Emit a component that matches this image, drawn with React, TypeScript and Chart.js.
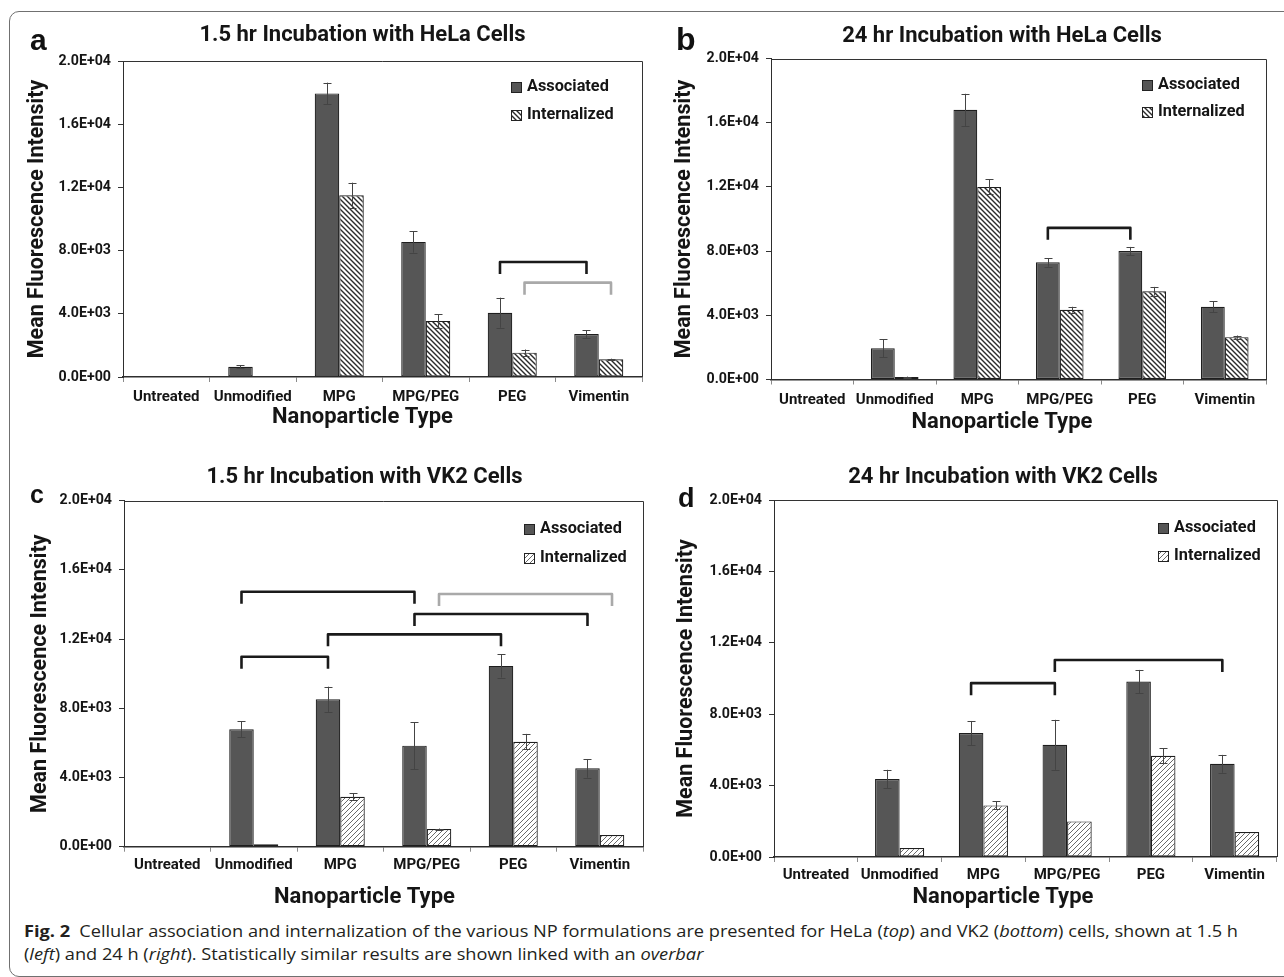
import React, { useEffect, useLayoutEffect, useRef } from "react";
import { Chart, registerables } from "chart.js";

Chart.register(...registerables);

// ---------------- data ----------------
const categories = ["Untreated", "Unmodified", "MPG", "MPG/PEG", "PEG", "Vimentin"];
const seriesLabels = ["Associated", "Internalized"];
const xAxisTitle = "Nanoparticle Type";
const yAxisTitle = "Mean Fluorescence Intensity";
const yMin = 0;
const yMax = 20000;
const yStep = 4000;

const titleA = "1.5 hr Incubation with HeLa Cells";
const titleB = "24 hr Incubation with HeLa Cells";
const titleC = "1.5 hr Incubation with VK2 Cells";
const titleD = "24 hr Incubation with VK2 Cells";

// a: 1.5 hr HeLa
const associatedA = [0, 650, 17950, 8550, 4070, 2720];
const associatedErrA = [0, 90, 680, 680, 950, 250];
const internalizedA = [0, 30, 11500, 3550, 1540, 1120];
const internalizedErrA = [0, 0, 800, 420, 200, 40];

// b: 24 hr HeLa
const associatedB = [0, 1950, 16800, 7300, 8000, 4530];
const associatedErrB = [0, 560, 1000, 270, 260, 330];
const internalizedB = [0, 150, 12000, 4350, 5500, 2640];
const internalizedErrB = [0, 30, 470, 180, 270, 100];

// c: 1.5 hr VK2
const associatedC = [0, 6790, 8520, 5840, 10450, 4530];
const associatedErrC = [0, 470, 730, 1350, 670, 540];
const internalizedC = [0, 140, 2890, 1020, 6070, 680];
const internalizedErrC = [0, 0, 190, 30, 450, 0];

// d: 24 hr VK2
const associatedD = [0, 4365, 6940, 6285, 9830, 5220];
const associatedErrD = [0, 520, 680, 1400, 650, 500];
const internalizedD = [0, 500, 2890, 1995, 5670, 1400];
const internalizedErrD = [0, 0, 220, 0, 420, 0];

// overbars linking statistically similar results: [fromCategory, toCategory, seriesIndex, value]
const overbarsA = [[4, 5, 0, 7280], [4, 5, 1, 5970]];
const overbarsB = [[3, 4, 0, 9450]];
const overbarsC = [
  [1, 3, 0, 14740],
  [3, 5, 1, 14610],
  [3, 5, 0, 13450],
  [2, 4, 0, 12275],
  [1, 2, 0, 10980],
];
const overbarsD = [[2, 3, 0, 9740], [3, 5, 0, 11040]];

// ---------------- layout / style ----------------
const FONT = "Roboto, 'Open Sans', sans-serif";
const TITLE_SIZE = 22;
const TITLE_LH = 1.2;
const YT_SIZE = 21.5;
const YT_LH = 1.2;
const XT_SIZE = 22;
const XT_LH = 1;
const XL_SIZE = 15;
const XL_LH = 1;
const YL_SIZE = 14.2;
const LEGEND_SIZE = 16.3;
const TEXT = "#151515";

const panels = [
  {
    id: "a", title: titleA, assoc: associatedA, assocErr: associatedErrA, intern: internalizedA, internErr: internalizedErrA,
    overbars: overbarsA, hatch: "back",
    plot: { l: 123, r: 642, t: 61, b: 377 }, titleX: 362.5, titleY: 35.8, xTitleY: 417.5, yTitleX: 37.4, xLabelOff: 20.3,
    legend: { dx: 131, ys: [25.7, 54.3] }, catPct: 0.567,
  },
  {
    id: "b", title: titleB, assoc: associatedB, assocErr: associatedErrB, intern: internalizedB, internErr: internalizedErrB,
    overbars: overbarsB, hatch: "back",
    plot: { l: 771, r: 1266, t: 58.5, b: 379.5 }, titleX: 1002, titleY: 36.2, xTitleY: 422, yTitleX: 684.6, xLabelOff: 20.5,
    legend: { dx: 124, ys: [26.5, 53.5] }, catPct: 0.577,
  },
  {
    id: "c", title: titleC, assoc: associatedC, assocErr: associatedErrC, intern: internalizedC, internErr: internalizedErrC,
    overbars: overbarsC, hatch: "fwd",
    plot: { l: 124, r: 643, t: 500.7, b: 846.7 }, titleX: 364.5, titleY: 477.8, xTitleY: 897, yTitleX: 41, xLabelOff: 18.3,
    legend: { dx: 119, ys: [28.3, 57.3] }, catPct: 0.567,
  },
  {
    id: "d", title: titleD, assoc: associatedD, assocErr: associatedErrD, intern: internalizedD, internErr: internalizedErrD,
    overbars: overbarsD, hatch: "fwd",
    plot: { l: 774, r: 1276.5, t: 500, b: 857 }, titleX: 1003, titleY: 477.8, xTitleY: 897, yTitleX: 686.7, xLabelOff: 18,
    legend: { dx: 118.5, ys: [27.7, 56] }, catPct: 0.587,
  },
];

const letters = [
  { t: "a", left: 30, baseline: 50, size: 30 },
  { t: "b", left: 676, baseline: 50, size: 32 },
  { t: "c", left: 30, baseline: 503.5, size: 25 },
  { t: "d", left: 678, baseline: 508, size: 27 },
];

function sci(v: number): string {
  const [m, e] = v.toExponential(1).split("e");
  const n = parseInt(e, 10);
  return m + "E" + (n < 0 ? "-" : "+") + String(Math.abs(n)).padStart(2, "0");
}

function geometry(c: any) {
  const ytLH = YT_SIZE * YT_LH;
  const tLH = TITLE_SIZE * TITLE_LH;
  const xtLH = XT_SIZE * XT_LH;
  const left = Math.floor(c.yTitleX - ytLH / 2);
  const right = Math.round(2 * c.titleX - left);
  const top = Math.floor(c.titleY - tLH / 2 - 4);
  const tPadTop = c.titleY - top - tLH / 2;
  const tPadBottom = c.plot.t - top - tPadTop - tLH;
  const xH = c.xLabelOff + 9;
  const xPad = c.xLabelOff - 5 - (XL_SIZE * XL_LH) / 2;
  const sPadTop = Math.max(0, c.xTitleY - c.plot.b - xH - xtLH / 2);
  const base = c.plot.b - top + xH + sPadTop + xtLH;
  const h = Math.ceil(base + 4);
  const sPadBottom = h - base;
  return {
    left, top, w: right - left, h, xH, xPad,
    yW: c.plot.l - left, y2W: right - c.plot.r,
    ytPad: Math.max(0, c.yTitleX - left - ytLH / 2),
    tPadTop, tPadBottom, sPadTop, sPadBottom,
  };
}

function makeHatch(ctx: CanvasRenderingContext2D, dir: string): CanvasPattern | string {
  const back = dir === "back";
  const size = 5;
  const c = document.createElement("canvas");
  c.width = size;
  c.height = size;
  const g = c.getContext("2d");
  if (!g) return "#ffffff";
  g.fillStyle = "#ffffff";
  g.fillRect(0, 0, size, size);
  g.strokeStyle = back ? "#2b2b2b" : "#6a6a6a";
  g.lineWidth = back ? 1.4 : 1;
  g.beginPath();
  if (back) {
    g.moveTo(-1, -1); g.lineTo(size + 1, size + 1);
    g.moveTo(-1, size - 1); g.lineTo(1, size + 1);
    g.moveTo(size - 1, -1); g.lineTo(size + 1, 1);
  } else {
    g.moveTo(-1, size + 1); g.lineTo(size + 1, -1);
    g.moveTo(-1, 1); g.lineTo(1, -1);
    g.moveTo(size - 1, size + 1); g.lineTo(size + 1, size - 1);
  }
  g.stroke();
  return ctx.createPattern(c, "repeat") || "#ffffff";
}

// ---------------- plugins ----------------
const errorBarPlugin = {
  id: "errorBars",
  afterDatasetsDraw(chart: any) {
    const { ctx } = chart;
    const y = chart.scales.y;
    chart.data.datasets.forEach((ds: any, i: number) => {
      const meta = chart.getDatasetMeta(i);
      meta.data.forEach((bar: any, j: number) => {
        const e = ds.errors ? ds.errors[j] : 0;
        if (!e) return;
        const v = ds.data[j];
        const x = Math.round(bar.x) + 0.5;
        const y1 = y.getPixelForValue(v + e);
        const y2 = y.getPixelForValue(v - e);
        ctx.save();
        ctx.strokeStyle = "#444";
        ctx.lineWidth = 1;
        ctx.beginPath();
        ctx.moveTo(x, y1); ctx.lineTo(x, y2);
        ctx.moveTo(x - 4, Math.round(y1) + 0.5); ctx.lineTo(x + 4, Math.round(y1) + 0.5);
        ctx.moveTo(x - 4, Math.round(y2) + 0.5); ctx.lineTo(x + 4, Math.round(y2) + 0.5);
        ctx.stroke();
        ctx.restore();
      });
    });
  },
};

const overbarPlugin = {
  id: "overbars",
  afterDatasetsDraw(chart: any, _args: any, opts: any) {
    const { ctx } = chart;
    const y = chart.scales.y;
    (opts.items || []).forEach((it: number[]) => {
      const [c1, c2, s, v] = it;
      const meta = chart.getDatasetMeta(s);
      const x1 = meta.data[c1].x;
      const x2 = meta.data[c2].x;
      const py = y.getPixelForValue(v);
      ctx.save();
      ctx.strokeStyle = s === 0 ? "#1a1a1a" : "#a9a9a9";
      ctx.lineWidth = 2.6;
      ctx.lineJoin = "round";
      ctx.beginPath();
      ctx.moveTo(x1, py + 12);
      ctx.lineTo(x1, py);
      ctx.lineTo(x2, py);
      ctx.lineTo(x2, py + 12);
      ctx.stroke();
      ctx.restore();
    });
  },
};

const framePlugin = {
  id: "plotFrame",
  afterDraw(chart: any) {
    const { ctx, chartArea: a } = chart;
    ctx.save();
    ctx.strokeStyle = "#333";
    ctx.lineWidth = 1;
    ctx.beginPath();
    ctx.moveTo(a.left, Math.round(a.top) + 0.5);
    ctx.lineTo(Math.round(a.right) + 0.5, Math.round(a.top) + 0.5);
    ctx.lineTo(Math.round(a.right) + 0.5, a.bottom);
    ctx.stroke();
    ctx.restore();
  },
};

const cornerLegendPlugin = {
  id: "cornerLegend",
  afterDraw(chart: any, _args: any, opts: any) {
    const { ctx, chartArea: a } = chart;
    const x = Math.round(a.right - opts.dx);
    chart.data.datasets.forEach((ds: any, i: number) => {
      const cy = a.top + opts.ys[i];
      ctx.save();
      ctx.fillStyle = ds.backgroundColor;
      ctx.fillRect(x, Math.round(cy - 5), 11, 11);
      ctx.strokeStyle = "#222";
      ctx.lineWidth = 1;
      ctx.strokeRect(x + 0.5, Math.round(cy - 5) + 0.5, 10, 10);
      ctx.fillStyle = TEXT;
      ctx.font = "bold " + LEGEND_SIZE + "px " + FONT;
      ctx.textBaseline = "middle";
      ctx.textAlign = "left";
      ctx.fillText(ds.label, x + 16, cy);
      ctx.restore();
    });
  },
};

// ---------------- components ----------------
function Panel({ cfg }: { cfg: any }) {
  const ref = useRef<HTMLCanvasElement>(null);
  const g = geometry(cfg);

  useEffect(() => {
    const canvas = ref.current;
    if (!canvas) return;
    const ctx = canvas.getContext("2d");
    if (!ctx) return;
    const hatch = makeHatch(ctx, cfg.hatch);
    const chart = new Chart(canvas, {
      type: "bar",
      data: {
        labels: categories,
        datasets: [
          {
            label: seriesLabels[0], data: cfg.assoc, errors: cfg.assocErr, yAxisID: "y",
            backgroundColor: "#565656", borderColor: "#1e1e1e", borderWidth: 1.2, borderSkipped: false,
            categoryPercentage: cfg.catPct, barPercentage: 1,
          } as any,
          {
            label: seriesLabels[1], data: cfg.intern, errors: cfg.internErr, yAxisID: "y",
            backgroundColor: hatch, borderColor: "#1e1e1e", borderWidth: 1.2, borderSkipped: false,
            categoryPercentage: cfg.catPct, barPercentage: 1,
          } as any,
        ],
      },
      options: {
        responsive: false,
        animation: false,
        events: [],
        layout: { padding: 0 },
        font: { family: FONT },
        scales: {
          x: {
            type: "category",
            offset: true,
            grid: { display: true, drawOnChartArea: false, drawTicks: true, tickLength: 5, color: "#8a8a8a", offset: true },
            border: { display: true, color: "#2e2e2e", width: 1.5 },
            ticks: {
              font: { family: FONT, size: XL_SIZE, weight: "bold", lineHeight: XL_LH },
              color: TEXT, padding: g.xPad, autoSkip: false, maxRotation: 0,
            },
            afterFit: (s: any) => { s.height = g.xH; },
          },
          y: {
            type: "linear",
            position: "left",
            min: yMin,
            max: yMax,
            ticks: {
              stepSize: yStep,
              callback: (v: any) => sci(Number(v)),
              font: { family: FONT, size: YL_SIZE, weight: "bold" },
              color: TEXT,
              padding: 7,
            },
            grid: { display: true, drawOnChartArea: false, drawTicks: true, tickLength: 5, color: "#333" },
            border: { display: true, color: "#2e2e2e", width: 1 },
            title: {
              display: true, text: yAxisTitle, color: TEXT,
              font: { family: FONT, size: YT_SIZE, weight: "bold", lineHeight: YT_LH },
              padding: { top: g.ytPad, bottom: 0 },
            },
            afterFit: (s: any) => { s.width = g.yW; },
          },
          yPad: {
            type: "linear",
            position: "right",
            display: true,
            grid: { display: false, drawTicks: false },
            border: { display: false },
            ticks: { display: false },
            afterFit: (s: any) => { s.width = g.y2W; },
          },
        },
        plugins: {
          legend: { display: false },
          tooltip: { enabled: false },
          title: {
            display: true, text: cfg.title, color: TEXT,
            font: { family: FONT, size: TITLE_SIZE, weight: "bold", lineHeight: TITLE_LH },
            padding: { top: g.tPadTop, bottom: g.tPadBottom },
          },
          subtitle: {
            display: true, position: "bottom", text: xAxisTitle, color: TEXT,
            font: { family: FONT, size: XT_SIZE, weight: "bold", lineHeight: XT_LH },
            padding: { top: g.sPadTop, bottom: g.sPadBottom },
          },
          overbars: { items: cfg.overbars },
          cornerLegend: cfg.legend,
        } as any,
      } as any,
      plugins: [errorBarPlugin, overbarPlugin, framePlugin, cornerLegendPlugin] as any,
    });
    return () => chart.destroy();
  }, []);

  return (
    <canvas
      ref={ref}
      width={g.w}
      height={g.h}
      style={{ position: "absolute", left: g.left, top: g.top, width: g.w, height: g.h }}
    />
  );
}

const CAPTION_LINE1_WIDTH = 1214;

function Caption() {
  const boxRef = useRef<HTMLDivElement>(null);
  const l1Ref = useRef<HTMLSpanElement>(null);
  useLayoutEffect(() => {
    const box = boxRef.current;
    const l1 = l1Ref.current;
    if (!box || !l1) return;
    const w = l1.getBoundingClientRect().width;
    if (w > 0) box.style.transform = `scaleX(${CAPTION_LINE1_WIDTH / w})`;
  }, []);
  return (
    <div
      ref={boxRef}
      style={{
        position: "absolute", left: 24, top: 919.6, fontFamily: "'Open Sans', sans-serif",
        fontSize: 16, lineHeight: "23px", color: "#231f20", whiteSpace: "nowrap", transformOrigin: "0 0",
      }}
    >
      <div>
        <span ref={l1Ref}>
          <b>Fig. 2</b>{"\u2002"}Cellular association and internalization of the various NP formulations are presented for HeLa (<i>top</i>) and VK2 (<i>bottom</i>) cells, shown at 1.5 h
        </span>
      </div>
      <div>
        (<i>left</i>) and 24 h (<i>right</i>). Statistically similar results are shown linked with an <i>overbar</i>
      </div>
    </div>
  );
}

export default function App() {
  return (
    <div style={{ position: "fixed", left: 0, top: 0, width: 1284, height: 977, overflow: "hidden", background: "#fff" }}>
      <div
        style={{
          position: "absolute", left: 9, top: 11, width: 1300, height: 966, boxSizing: "border-box",
          border: "1px solid #707070", borderRadius: 10,
        }}
      />
      {panels.map((p) => (
        <Panel key={p.id} cfg={p} />
      ))}
      {letters.map((l) => (
        <div
          key={l.t}
          style={{
            position: "absolute", left: l.left, top: l.baseline - 0.8465 * l.size, fontFamily: "'Liberation Sans', Arial, sans-serif",
            fontWeight: "bold", fontSize: l.size, lineHeight: 1, color: "#111",
          }}
        >
          {l.t}
        </div>
      ))}
      <Caption />
    </div>
  );
}
